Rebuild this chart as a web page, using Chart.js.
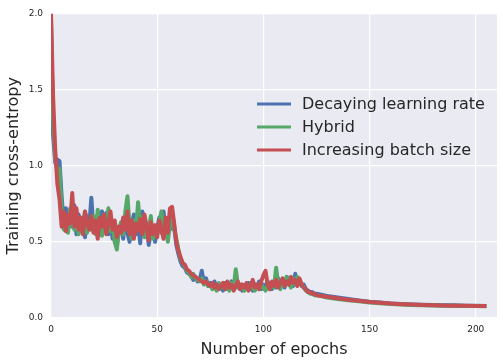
<!DOCTYPE html>
<html>
<head>
<meta charset="utf-8">
<script src="https://cdn.jsdelivr.net/npm/chart.js@4/dist/chart.umd.min.js"></script>
<style>
  html, body { margin: 0; padding: 0; background: #fff; }
  canvas { display: block; }
</style>
</head>
<body>
<canvas id="chart" width="503" height="363"></canvas>
<script>
// epochs: every epoch up to 125, then every 5th
const epochs = [];
for (let e = 0; e <= 125; e++) epochs.push(e);
for (let e = 130; e <= 205; e += 5) epochs.push(e);

const decayingLR = [
  1.95, 1.20, 1.02, 1.04, 1.03, 0.80, 0.62, 0.72, 0.58, 0.66,
  0.60, 0.74, 0.55, 0.68, 0.57, 0.62, 0.53, 0.67, 0.60, 0.79,
  0.58, 0.66, 0.54, 0.64, 0.70, 0.57, 0.69, 0.55, 0.63, 0.52,
  0.60, 0.48, 0.58, 0.62, 0.52, 0.66, 0.56, 0.50, 0.61, 0.68,
  0.55, 0.64, 0.49, 0.70, 0.58, 0.62, 0.48, 0.56, 0.60, 0.50,
  0.59, 0.66, 0.56, 0.70, 0.54, 0.60, 0.58, 0.70, 0.60, 0.48,
  0.42, 0.37, 0.34, 0.33, 0.30, 0.29, 0.28, 0.25, 0.27, 0.24,
  0.25, 0.31, 0.23, 0.26, 0.21, 0.23, 0.20, 0.24, 0.19, 0.22,
  0.20, 0.18, 0.23, 0.19, 0.21, 0.24, 0.19, 0.28, 0.20, 0.22,
  0.18, 0.21, 0.19, 0.23, 0.20, 0.18, 0.22, 0.20, 0.24, 0.19,
  0.22, 0.20, 0.24, 0.21, 0.19, 0.23, 0.20, 0.26, 0.21, 0.24,
  0.20, 0.27, 0.22, 0.25, 0.21, 0.29, 0.23, 0.25, 0.21, 0.22,
  0.19, 0.18, 0.17, 0.17, 0.16, 0.16,
  0.145, 0.135, 0.125, 0.115, 0.107, 0.102, 0.096, 0.092,
  0.089, 0.087, 0.085, 0.083, 0.083, 0.081, 0.080, 0.079
];

const hybrid = [
  1.85, 1.30, 1.05, 0.96, 0.98, 0.72, 0.58, 0.66, 0.56, 0.72,
  0.62, 0.58, 0.69, 0.55, 0.64, 0.60, 0.70, 0.56, 0.63, 0.58,
  0.67, 0.55, 0.71, 0.60, 0.54, 0.66, 0.58, 0.72, 0.57, 0.62,
  0.50, 0.45, 0.58, 0.63, 0.55, 0.70, 0.80, 0.60, 0.52, 0.64,
  0.57, 0.76, 0.60, 0.66, 0.53, 0.62, 0.58, 0.67, 0.52, 0.60,
  0.56, 0.63, 0.70, 0.55, 0.61, 0.50, 0.62, 0.68, 0.58, 0.52,
  0.45, 0.39, 0.36, 0.34, 0.31, 0.30, 0.27, 0.29, 0.26, 0.25,
  0.24, 0.26, 0.22, 0.24, 0.21, 0.22, 0.19, 0.21, 0.18, 0.23,
  0.20, 0.22, 0.19, 0.21, 0.18, 0.23, 0.20, 0.32, 0.21, 0.19,
  0.22, 0.18, 0.21, 0.19, 0.22, 0.20, 0.18, 0.21, 0.19, 0.22,
  0.20, 0.18, 0.21, 0.19, 0.22, 0.20, 0.33, 0.22, 0.19, 0.25,
  0.21, 0.27, 0.23, 0.20, 0.26, 0.22, 0.27, 0.24, 0.22, 0.20,
  0.18, 0.17, 0.16, 0.16, 0.15, 0.15,
  0.135, 0.125, 0.117, 0.110, 0.102, 0.097, 0.092, 0.089,
  0.086, 0.084, 0.082, 0.081, 0.080, 0.079, 0.078, 0.077
];

const increasingBatch = [
  2.00, 1.45, 1.10, 0.88, 0.78, 0.60, 0.70, 0.57, 0.68, 0.62,
  0.82, 0.60, 0.72, 0.58, 0.66, 0.55, 0.70, 0.62, 0.58, 0.67,
  0.56, 0.64, 0.52, 0.66, 0.60, 0.68, 0.55, 0.62, 0.70, 0.58,
  0.64, 0.53, 0.60, 0.56, 0.66, 0.58, 0.70, 0.55, 0.64, 0.52,
  0.62, 0.57, 0.65, 0.55, 0.68, 0.60, 0.51, 0.63, 0.55, 0.61,
  0.53, 0.64, 0.58, 0.52, 0.66, 0.56, 0.72, 0.73, 0.62, 0.50,
  0.44, 0.40, 0.36, 0.35, 0.32, 0.31, 0.29, 0.28, 0.27, 0.26,
  0.25, 0.24, 0.23, 0.24, 0.22, 0.21, 0.23, 0.20, 0.22, 0.19,
  0.21, 0.23, 0.19, 0.24, 0.20, 0.22, 0.18, 0.21, 0.24, 0.19,
  0.22, 0.20, 0.23, 0.18, 0.21, 0.25, 0.20, 0.22, 0.19, 0.24,
  0.28, 0.31, 0.22, 0.19, 0.24, 0.21, 0.25, 0.20, 0.23, 0.26,
  0.21, 0.24, 0.22, 0.27, 0.23, 0.25, 0.21, 0.26, 0.22, 0.20,
  0.19, 0.17, 0.17, 0.16, 0.16, 0.15,
  0.140, 0.130, 0.120, 0.113, 0.105, 0.100, 0.095, 0.091,
  0.088, 0.086, 0.084, 0.082, 0.081, 0.080, 0.079, 0.078
];

const seriesNames = ["Decaying learning rate", "Hybrid", "Increasing batch size"];
const seriesColors = ["#4C72B0", "#55A868", "#C44E52"];
const yTicks = [0, 0.5, 1.0, 1.5, 2.0];
const xTicks = [0, 50, 100, 150, 200];

const textColor = "#262626";
const fontFamily = "'DejaVu Sans', sans-serif";

const toPoints = (vals) => epochs.map((e, i) => ({ x: e, y: vals[i] }));

const plotBackground = {
  id: "plotBackground",
  beforeDraw(chart) {
    const { ctx, chartArea: a } = chart;
    ctx.save();
    ctx.fillStyle = "#fff";
    ctx.fillRect(0, 0, chart.width, chart.height);
    ctx.fillStyle = "#EAEAF2";
    ctx.fillRect(a.left, a.top, a.right - a.left, a.bottom - a.top);
    ctx.restore();
  },
};

// legend drawn inside the axes, no frame (like matplotlib's)
const insideLegend = {
  id: "insideLegend",
  afterDatasetsDraw(chart) {
    const ctx = chart.ctx;
    ctx.save();
    ctx.font = "16px " + fontFamily;
    ctx.textBaseline = "middle";
    chart.data.datasets.forEach((ds, i) => {
      const y = 104 + i * 23;
      ctx.strokeStyle = ds.borderColor;
      ctx.lineWidth = 3;
      ctx.beginPath();
      ctx.moveTo(257, y);
      ctx.lineTo(291, y);
      ctx.stroke();
      ctx.fillStyle = textColor;
      ctx.fillText(ds.label, 302, y + 1);
    });
    ctx.restore();
  },
};

// last series is drawn on top, as in the original plot
const datasets = [decayingLR, hybrid, increasingBatch].map((vals, i) => ({
  label: seriesNames[i],
  data: toPoints(vals),
  borderColor: seriesColors[i],
  borderWidth: 4,
  borderJoinStyle: "round",
  pointRadius: 0,
  tension: 0,
  order: 2 - i,
}));

new Chart(document.getElementById("chart"), {
  type: "line",
  data: { datasets },
  options: {
    responsive: false,
    animation: false,
    devicePixelRatio: 1,
    layout: { padding: { left: 0, top: 12, right: 6, bottom: 0 } },
    plugins: {
      legend: { display: false },
      tooltip: { enabled: false },
    },
    scales: {
      x: {
        type: "linear",
        min: 0,
        max: 210,
        afterBuildTicks: (s) => { s.ticks = xTicks.map((v) => ({ value: v })); },
        afterFit: (s) => { s.height = 45; },
        grid: { color: "#fff", lineWidth: 1.2, drawTicks: false },
        border: { display: false },
        ticks: { color: textColor, font: { family: fontFamily, size: 9 }, padding: 6, maxRotation: 0 },
        title: { display: true, text: "Number of epochs", color: textColor, font: { family: fontFamily, size: 16 } },
      },
      y: {
        min: 0,
        max: 2,
        afterBuildTicks: (s) => { s.ticks = yTicks.map((v) => ({ value: v })); },
        afterFit: (s) => { s.width = 51; },
        grid: { color: "#fff", lineWidth: 1.2, drawTicks: false },
        border: { display: false },
        ticks: { color: textColor, font: { family: fontFamily, size: 9 }, padding: 8, callback: (v) => v.toFixed(1) },
        title: { display: true, text: "Training cross-entropy", color: textColor, font: { family: fontFamily, size: 16 } },
      },
    },
  },
  plugins: [plotBackground, insideLegend],
});
</script>
</body>
</html>
